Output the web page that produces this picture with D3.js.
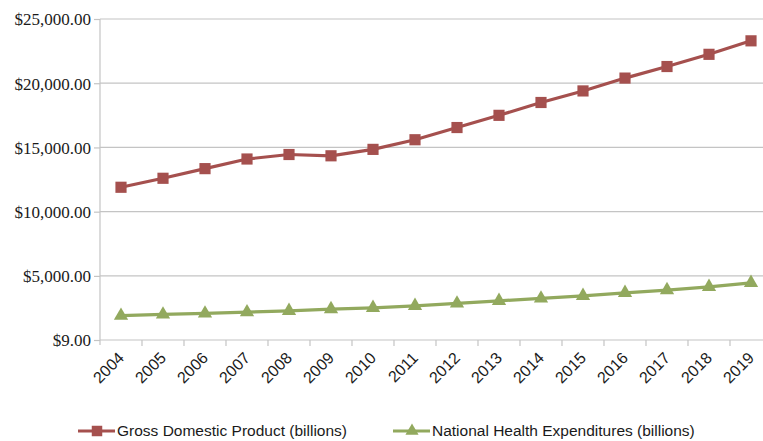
<!DOCTYPE html>
<html lang='en'>

<head>
   <meta charset='UTF-8'>
   <script src="https://cdnjs.cloudflare.com/ajax/libs/d3/7.8.5/d3.min.js"></script>
   <style>
      body {
         margin: 0;
         background: white;
      }

      svg {
         display: block;
      }

      .x-label {
         font: 16px 'Liberation Sans', sans-serif;
         fill: #1a1a1a;
      }

      .legend text {
         font: 15.5px 'Liberation Sans', sans-serif;
         fill: #1a1a1a;
      }
   </style>
   <title>GDP vs NHE</title>
</head>

<body>
   <svg id='chart'></svg>

   <script>
      'use strict'

      const years = ['2004', '2005', '2006', '2007', '2008', '2009', '2010', '2011',
         '2012', '2013', '2014', '2015', '2016', '2017', '2018', '2019']

      const gdp = [11900, 12600, 13350, 14100, 14450, 14350, 14850, 15600,
         16550, 17500, 18500, 19400, 20400, 21300, 22250, 23300]

      const nhe = [1900, 2000, 2080, 2180, 2280, 2415, 2515, 2670,
         2860, 3060, 3250, 3450, 3680, 3895, 4150, 4460]

      const yTicks = [9, 5000, 10000, 15000, 20000, 25000]

      const seriesNames = ['Gross Domestic Product (billions)', 'National Health Expenditures (billions)']
      const seriesColors = ['#a5504e', '#92a95e']

      const width = 763,
         height = 441

      const plotLeft = 100,
         plotRight = 772,
         plotTop = 19,
         plotBottom = 340

      const svg = d3.select('svg')
         .attr('width', width)
         .attr('height', height)

      const x = d3.scaleBand(years, [plotLeft, plotRight]).padding(0)
      const y = d3.scaleLinear([9, 25000], [plotBottom, plotTop])

      const fmt = d3.format('$,.2f')
      const axisColor = '#c4c4c4'

      // horizontal grid
      svg.append('g')
         .selectAll('line')
         .data(yTicks.slice(1))
         .join('line')
         .attr('x1', plotLeft)
         .attr('x2', plotRight)
         .attr('y1', d => y(d))
         .attr('y2', d => y(d))
         .attr('stroke', axisColor)
         .attr('stroke-width', 1.2)

      // y axis
      const yAxis = svg.append('g')
         .attr('transform', `translate(${plotLeft},0)`)
         .call(d3.axisLeft(y).tickValues(yTicks).tickFormat(fmt).tickSize(6).tickPadding(3))

      yAxis.select('.domain').remove()
      yAxis.selectAll('line').attr('stroke', axisColor).attr('stroke-width', 1.2)
      yAxis.selectAll('text')
         .style('font-family', "'Liberation Serif', 'Times New Roman', serif")
         .style('font-size', '17px')
         .style('fill', '#1a1a1a')
         .attr('dy', '0.35em')

      svg.append('line')
         .attr('x1', plotLeft).attr('x2', plotLeft)
         .attr('y1', plotTop).attr('y2', plotBottom + 5)
         .attr('stroke', axisColor).attr('stroke-width', 1.2)

      // x axis
      svg.append('line')
         .attr('x1', plotLeft).attr('x2', plotRight)
         .attr('y1', plotBottom).attr('y2', plotBottom)
         .attr('stroke', axisColor).attr('stroke-width', 1.2)

      svg.append('g')
         .selectAll('line')
         .data(years.slice(1))
         .join('line')
         .attr('x1', d => x(d))
         .attr('x2', d => x(d))
         .attr('y1', plotBottom)
         .attr('y2', plotBottom + 6)
         .attr('stroke', axisColor)
         .attr('stroke-width', 1.2)

      svg.append('g')
         .selectAll('text')
         .data(years)
         .join('text')
         .attr('class', 'x-label')
         .attr('text-anchor', 'end')
         .attr('transform', d => `translate(${x(d) + x.bandwidth() / 2 + 4},${plotBottom + 19}) rotate(-45)`)
         .text(d => d)

      const cx = d => x(d) + x.bandwidth() / 2

      const line = d3.line()
         .x(d => cx(d[0]))
         .y(d => y(d[1]))

      const gdpData = years.map((yr, i) => [yr, gdp[i]])
      const nheData = years.map((yr, i) => [yr, nhe[i]])

      const square = d3.symbol(d3.symbolSquare, 125)
      const triangle = d3.symbol(d3.symbolTriangle, 88)

      function drawSeries(data, color, sym) {
         svg.append('path')
            .datum(data)
            .attr('d', line)
            .attr('fill', 'none')
            .attr('stroke', color)
            .attr('stroke-width', 3.2)

         svg.append('g')
            .selectAll('path')
            .data(data)
            .join('path')
            .attr('d', sym)
            .attr('transform', d => `translate(${cx(d[0])},${y(d[1])})`)
            .attr('fill', color)
      }

      drawSeries(nheData, seriesColors[1], triangle)
      drawSeries(gdpData, seriesColors[0], square)

      // legend
      const legend = svg.append('g').attr('class', 'legend')
      const legendX = [78, 393]
      const legendY = 431

      seriesNames.forEach((name, i) => {
         const g = legend.append('g').attr('transform', `translate(${legendX[i]},${legendY})`)
         g.append('line')
            .attr('x1', 0).attr('x2', 37)
            .attr('stroke', seriesColors[i])
            .attr('stroke-width', 3.2)
         g.append('path')
            .attr('d', i === 0 ? d3.symbol(d3.symbolSquare, 110)() : d3.symbol(d3.symbolTriangle, 75)())
            .attr('transform', 'translate(19,0)')
            .attr('fill', seriesColors[i])
         g.append('text')
            .attr('x', 39)
            .attr('dy', '0.35em')
            .text(name)
      })
   </script>
</body>

</html>
